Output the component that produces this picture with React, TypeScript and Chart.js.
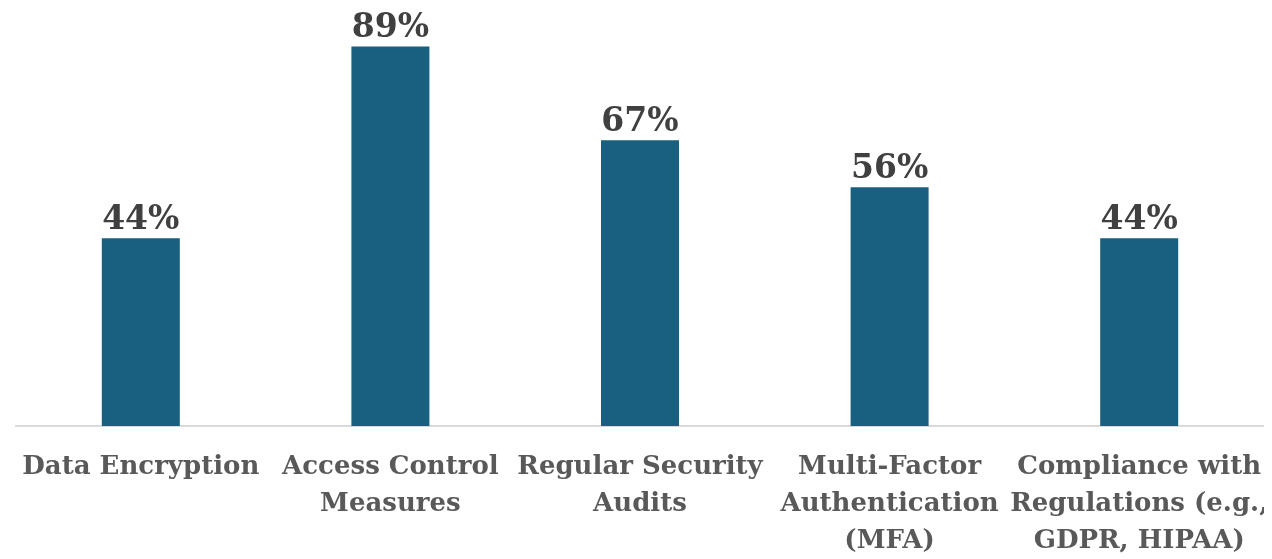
import React, { useEffect, useRef } from "react";
import { Chart, registerables } from "chart.js";

Chart.register(...registerables);

const categories: string[][] = [
  ["Data Encryption"],
  ["Access Control", "Measures"],
  ["Regular Security", "Audits"],
  ["Multi-Factor", "Authentication", "(MFA)"],
  ["Compliance with", "Regulations (e.g.,", "GDPR, HIPAA)"],
];
const values: number[] = [44, 89, 67, 56, 44];
const valueLabels: string[] = ["44%", "89%", "67%", "56%", "44%"];

const FONT = "'DejaVu Serif', serif";

const labelPlugin = {
  id: "valueLabels",
  afterDatasetsDraw(chart: any) {
    const ctx = chart.ctx;
    const meta = chart.getDatasetMeta(0);
    ctx.save();
    ctx.font = `bold 33px ${FONT}`;
    ctx.fillStyle = "#404040";
    ctx.textAlign = "center";
    ctx.textBaseline = "alphabetic";
    meta.data.forEach((bar: any, i: number) => {
      ctx.fillText(valueLabels[i], bar.x, bar.y - 9);
    });
    ctx.restore();
  },
};

export default function App() {
  const ref = useRef<HTMLCanvasElement>(null);
  useEffect(() => {
    if (!ref.current) return;
    const chart = new Chart(ref.current, {
      type: "bar",
      data: {
        labels: categories,
        datasets: [
          {
            data: values,
            backgroundColor: "#185f80",
            categoryPercentage: 1,
            barPercentage: 0.3125,
          },
        ],
      },
      options: {
        animation: false,
        responsive: true,
        maintainAspectRatio: false,
        layout: { padding: { left: 8, right: 0, top: 0, bottom: 0 } },
        plugins: {
          legend: { display: false },
          tooltip: { enabled: false },
        },
        scales: {
          x: {
            afterFit: (scale: any) => {
              scale.paddingLeft = 0;
              scale.paddingRight = 0;
              scale.height = 133;
            },
            grid: { display: true, drawOnChartArea: false, drawTicks: false, color: "transparent" },
            border: { display: true, color: "#d9d9d9", width: 2 },
            ticks: {
              autoSkip: false,
              maxRotation: 0,
              minRotation: 0,
              padding: 23,
              color: "#595959",
              font: { family: FONT, size: 26, weight: "bold", lineHeight: 1.42 },
            },
          },
          y: {
            display: false,
            min: 0,
            max: 98,
          },
        },
      },
      plugins: [labelPlugin],
    });
    return () => chart.destroy();
  }, []);
  return (
    <div style={{ width: "100%", height: 551, position: "relative" }}>
      <canvas ref={ref} />
    </div>
  );
}
